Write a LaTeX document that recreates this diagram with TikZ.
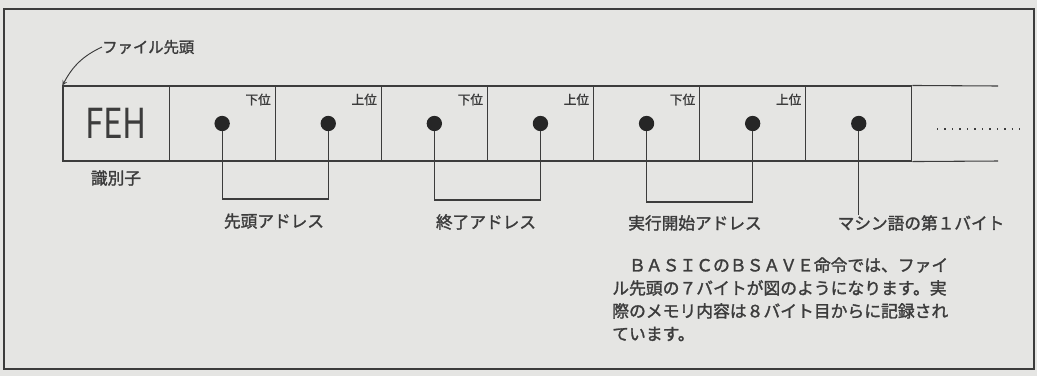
\documentclass[tikz,border=0pt]{standalone}
\usepackage{fontspec}
\setmainfont{Noto Sans CJK JP}
\newfontfamily\medfont{Noto Sans CJK JP}[FakeBold=1.6]
\usetikzlibrary{arrows}
\definecolor{paper}{HTML}{E5E5E3}
\definecolor{ink}{HTML}{3C3C3C}

\begin{document}
\begin{tikzpicture}[x=0.75pt,y=-0.75pt,
  box/.style={draw=ink, line width=0.8pt, minimum width=79.6pt, minimum height=56.25pt, inner sep=0},
  dot/.style={circle, fill=black!85, inner sep=0, minimum size=11.5pt},
  bytepos/.style={anchor=north east, inner sep=0, text=ink, font=\medfont\fontsize{9.5}{11}\selectfont},
  lbl/.style={text=ink, inner sep=0, font=\medfont\fontsize{12.5}{15}\selectfont}]

\useasboundingbox[fill=paper] (0,0) rectangle (1037,376);
\draw[ink, line width=0.8pt] (4,9) rectangle (1034,369);

% byte boxes
\node[box] (b1) at (116.05,123.5) {};
\node[box] (b2) at (222.15,123.5) {};
\node[box] (b3) at (328.25,123.5) {};
\node[box] (b4) at (434.35,123.5) {};
\node[box] (b5) at (540.45,123.5) {};
\node[box] (b6) at (646.55,123.5) {};
\node[box] (b7) at (752.65,123.5) {};
\node[box] (b8) at (858.75,123.5) {};
\coordinate (e1) at (998,86);
\coordinate (e2) at (998,161);
\draw[ink, line width=0.8pt] (b8.north east) -- (e1);
\draw[ink, line width=0.8pt] (b8.south east) -- (e2);
\draw[ink, line width=1pt, dash pattern=on 1pt off 4.6pt] (937,129) -- (1021,129);

\node[text=ink, inner sep=0, font=\fontsize{31}{31}\selectfont, xscale=0.8] at (b1) {FEH};
\node[lbl] (id) at (116,178) {識別子};

% ファイル先頭
\node[lbl, anchor=west, font=\medfont\fontsize{11.5}{14}\selectfont] (top) at (102,47) {ファイル先頭};
\draw[ink, line width=0.7pt, -stealth] (top.west) to[out=205,in=62] (b1.north west);

% low and high bytes
\node[bytepos] at ([xshift=-3.5pt,yshift=-6pt]b2.north east) {下位};
\node[bytepos] at ([xshift=-3.5pt,yshift=-6pt]b3.north east) {上位};
\node[bytepos] at ([xshift=-3.5pt,yshift=-6pt]b4.north east) {下位};
\node[bytepos] at ([xshift=-3.5pt,yshift=-6pt]b5.north east) {上位};
\node[bytepos] at ([xshift=-3.5pt,yshift=-6pt]b6.north east) {下位};
\node[bytepos] at ([xshift=-3.5pt,yshift=-6pt]b7.north east) {上位};

\node[dot] (d2) at (b2) {};
\node[dot] (d3) at (b3) {};
\node[dot] (d4) at (b4) {};
\node[dot] (d5) at (b5) {};
\node[dot] (d6) at (b6) {};
\node[dot] (d7) at (b7) {};
\node[dot] (d8) at (b8) {};

\draw[ink, line width=0.8pt] (d2) -- (d2 |- 0,199) -| (d3);
\draw[ink, line width=0.8pt] (d4) -- (d4 |- 0,200) -| (d5);
\draw[ink, line width=0.8pt] (d6) -- (d6 |- 0,202) -| (d7);

\node[lbl] (a1) at (274,221) {先頭アドレス};
\node[lbl] (a2) at (486,222) {終了アドレス};
\node[lbl] (a3) at (695,223) {実行開始アドレス};
\node[lbl] (a4) at (921,223) {マシン語の第１バイト};
\draw[ink, line width=0.8pt] (d8) -- (a4.north -| d8);

% note
\node[anchor=north west, inner sep=0, align=left, text=ink,
  font=\medfont\fontsize{12.6}{17.2}\selectfont] (note) at (612,257)
  {　ＢＡＳＩＣのＢＳＡＶＥ命令では、ファイ\\
   ル先頭の７バイトが図のようになります。実\\
   際のメモリ内容は８バイト目からに記録され\\
   ています。};
\end{tikzpicture}
\end{document}
